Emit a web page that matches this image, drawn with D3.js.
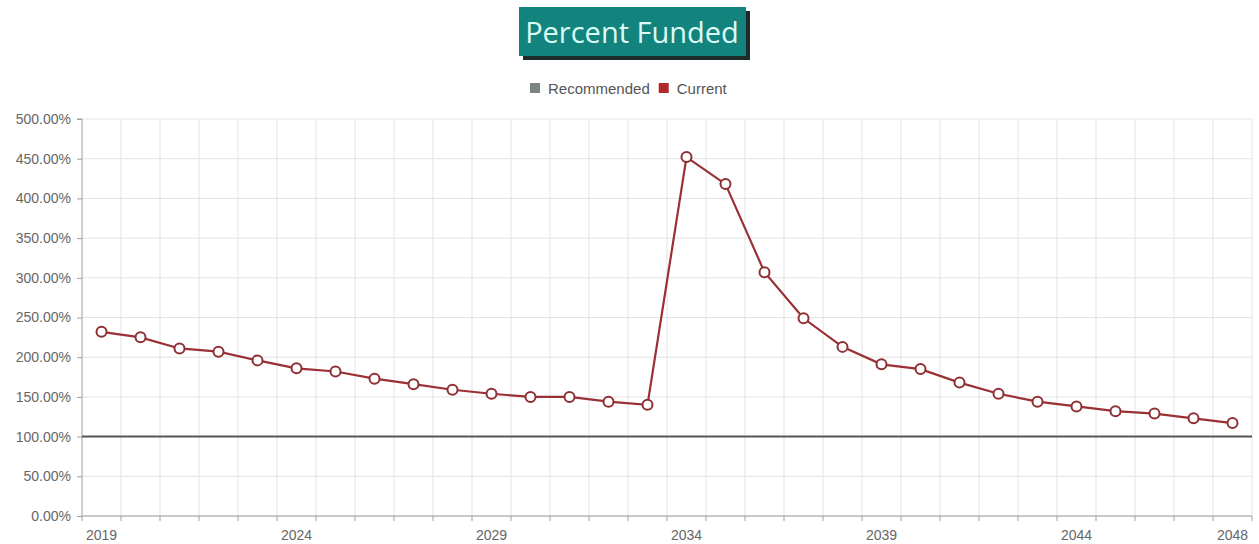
<!DOCTYPE html>
<html>
<head>
<meta charset="utf-8">
<script src="https://cdn.jsdelivr.net/npm/d3@7/dist/d3.min.js"></script>
<style>
  html, body { margin: 0; padding: 0; background: #fff; }
  svg { display: block; }
</style>
</head>
<body>
<svg id="chart" width="1259" height="544"></svg>
<script>
// Funding ratio by year (percent)
const years = d3.range(2019, 2049);
const current = [232, 225, 211, 207, 196, 186, 182, 173, 166, 159,
                 154, 150, 150, 144, 140, 452, 418, 307, 249, 213,
                 191, 185, 168, 154, 144, 138, 132, 129, 123, 117];
const recommended = [];
const yTicks = [0, 50, 100, 150, 200, 250, 300, 350, 400, 450, 500];
const xLabelYears = [2019, 2024, 2029, 2034, 2039, 2044, 2048];
const legendItems = [
  { name: "Recommended", color: "#7b8583" },
  { name: "Current", color: "#b3282b" }
];

const svg = d3.select("#chart");
const margin = { left: 82, right: 7, top: 119, bottom: 28 };
const W = 1259, H = 544;
const labelFont = "Liberation Sans, Arial, sans-serif";

const x = d3.scaleBand().domain(years).range([margin.left, W - margin.right]);
const y = d3.scaleLinear().domain([0, 500]).range([H - margin.bottom, margin.top]);

// Title badge
const title = svg.append("g");
title.append("rect").attr("x", 523).attr("y", 11).attr("width", 227).attr("height", 49).attr("fill", "#1d2b2b");
title.append("rect").attr("x", 519).attr("y", 7).attr("width", 227).attr("height", 49).attr("fill", "#13837d");
title.append("text").attr("x", 632).attr("y", 43).attr("text-anchor", "middle")
  .attr("font-family", "Open Sans, sans-serif").attr("font-size", 29)
  .attr("fill", "#dcfbf6").text("Percent Funded");

// Legend
const legend = svg.append("g").attr("font-family", labelFont).attr("font-size", 15).attr("fill", "#555");
let lx = 530;
legendItems.forEach(d => {
  legend.append("rect").attr("x", lx).attr("y", 83).attr("width", 10).attr("height", 10).attr("fill", d.color);
  const t = legend.append("text").attr("x", lx + 18).attr("y", 93.5).text(d.name);
  lx += 18 + t.node().getComputedTextLength() + 9;
});

// Grid
const grid = svg.append("g");
grid.selectAll("line.h").data(yTicks).join("line")
  .attr("x1", margin.left).attr("x2", W - margin.right)
  .attr("y1", d => y(d)).attr("y2", d => y(d))
  .attr("stroke", "#e3e3e3").attr("stroke-width", 1);
const edges = years.slice(1).map(d => x(d)).concat([x.range()[1]]);
grid.selectAll("line.v").data(edges).join("line")
  .attr("x1", d => d).attr("x2", d => d)
  .attr("y1", y(500)).attr("y2", y(0))
  .attr("stroke", "#e3e3e3").attr("stroke-width", 1);

// Y axis
const yAxis = svg.append("g").attr("transform", `translate(${margin.left},0)`)
  .call(d3.axisLeft(y).tickValues(yTicks).tickSize(5).tickPadding(6)
    .tickFormat(d => d3.format(".2f")(d) + "%"));
yAxis.select(".domain").attr("stroke", "#a0a0a0").attr("d", `M-5,${y(500)}H0V${y(0)}`);
yAxis.selectAll(".tick line").attr("stroke", "#a0a0a0");
yAxis.selectAll("text").attr("font-family", labelFont).attr("font-size", 14).attr("fill", "#666");

// X axis: ticks on band edges, labels at band centres
const xAxisG = svg.append("g").attr("transform", `translate(0,${y(0)})`);
xAxisG.append("line").attr("x1", margin.left).attr("x2", W - margin.right)
  .attr("y1", 0).attr("y2", 0).attr("stroke", "#a0a0a0");
xAxisG.selectAll("line.t").data([x.range()[0]].concat(edges)).join("line")
  .attr("x1", d => d).attr("x2", d => d).attr("y1", 0).attr("y2", 5).attr("stroke", "#a0a0a0");
xAxisG.selectAll("text").data(xLabelYears).join("text")
  .attr("x", d => x(d) + x.bandwidth() / 2).attr("y", 24)
  .attr("text-anchor", "middle")
  .attr("font-family", labelFont).attr("font-size", 14).attr("fill", "#666")
  .text(d => d);

// 100% reference line
svg.append("line").attr("x1", margin.left).attr("x2", W - margin.right)
  .attr("y1", y(100)).attr("y2", y(100)).attr("stroke", "#555").attr("stroke-width", 2);

// Current series
const pts = years.map((yr, i) => ({ yr, v: current[i] }));
const line = d3.line().x(d => x(d.yr) + x.bandwidth() / 2).y(d => y(d.v));
svg.append("path").datum(pts).attr("d", line)
  .attr("fill", "none").attr("stroke", "#9b3034").attr("stroke-width", 2.2);
svg.selectAll("circle.pt").data(pts).join("circle")
  .attr("cx", d => x(d.yr) + x.bandwidth() / 2).attr("cy", d => y(d.v))
  .attr("r", 5).attr("fill", "#fff").attr("stroke", "#8e2f33").attr("stroke-width", 2);
</script>
</body>
</html>
